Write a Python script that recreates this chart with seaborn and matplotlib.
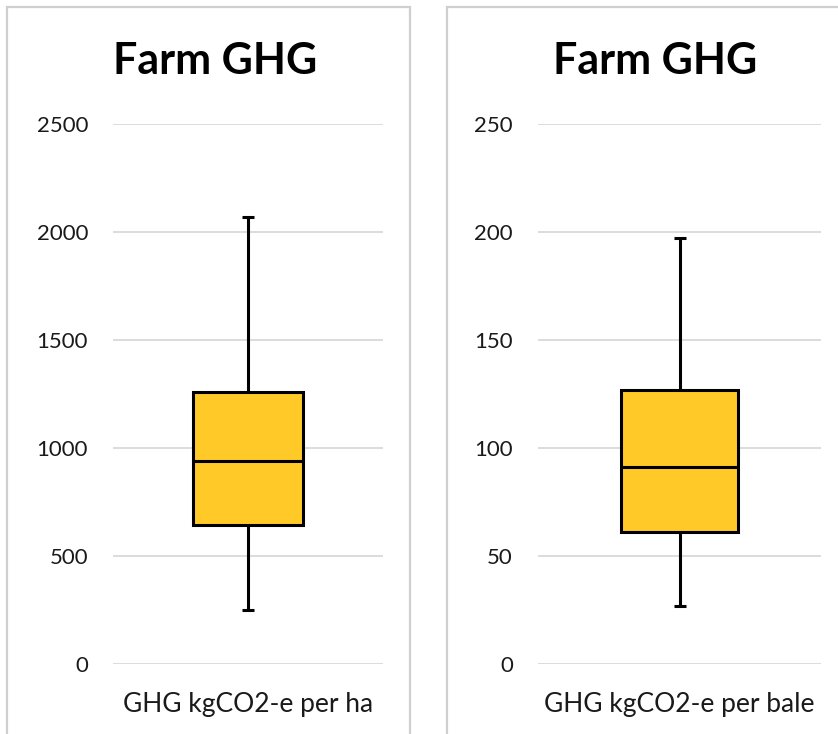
import numpy as np
import pandas as pd
import matplotlib.pyplot as plt
import seaborn as sns
from matplotlib.patches import Rectangle

# values: min, Q1, median, Q3, max
per_ha = [250, 643, 940, 1260, 2068]
per_bale = [27, 61, 91, 127, 197]
labels = ["GHG kgCO2-e per ha", "GHG kgCO2-e per bale"]
titles = ["Farm GHG", "Farm GHG"]
ylims = [2500, 250]
yticks = [[0, 500, 1000, 1500, 2000, 2500], [0, 50, 100, 150, 200, 250]]

sns.set_theme(style="white")
plt.rcParams['font.family'] = ['Lato', 'DejaVu Sans']

W, H = 838, 734
fig = plt.figure(figsize=(W / 100, H / 100), dpi=100)

box_color = '#FFC928'
grid_color = '#D9D9D9'

# axes boxes in pixels: left, right, top, bottom
axes_px = [(113, 383, 124, 664), (538, 821, 124, 664)]
panels_px = [(7, 410), (447, 900)]
title_x = [215, 655]

for i, vals in enumerate([per_ha, per_bale]):
    l, r, t, b = axes_px[i]
    ax = fig.add_axes([l / W, 1 - b / H, (r - l) / W, (b - t) / H])
    df = pd.DataFrame({'metric': labels[i], 'value': vals})
    sns.boxplot(data=df, x='metric', y='value', ax=ax, color=box_color,
                saturation=1, width=0.41, whis=np.inf, linecolor='black',
                linewidth=2.2)
    # short whisker caps, like the original
    cap_half = 6 / (r - l)
    for cap in ax.containers[0].caps:
        xd = cap.get_xdata()
        c = (xd[0] + xd[-1]) / 2
        cap.set_xdata([c - cap_half, c + cap_half])
        cap.set_solid_capstyle('butt')
    ax.set_ylim(0, ylims[i])
    ax.set_xlim(-0.5, 0.5)
    ax.set_yticks(yticks[i])
    ax.yaxis.grid(True, color=grid_color, linewidth=1.3)
    ax.set_axisbelow(True)
    for s in ax.spines.values():
        s.set_visible(False)
    ax.tick_params(axis='y', length=0, pad=18, labelsize=16, labelcolor='#1a1a1a')
    ax.tick_params(axis='x', length=0, pad=20, labelsize=19, labelcolor='#1a1a1a')
    ax.set_xlabel("")
    ax.set_ylabel("")

    # panel frame
    pl, pr = panels_px[i]
    fig.patches.append(Rectangle((pl / W, -0.1), (pr - pl) / W, 1.1 - 7 / H,
                                 transform=fig.transFigure, fill=False,
                                 edgecolor='#CFCFCF', linewidth=1.6))
    fig.text(title_x[i] / W, 1 - 74 / H, titles[i], ha='center', va='baseline',
             fontsize=31, fontweight='bold', color='black')

fig.savefig('out.png', dpi=100, facecolor='white')
